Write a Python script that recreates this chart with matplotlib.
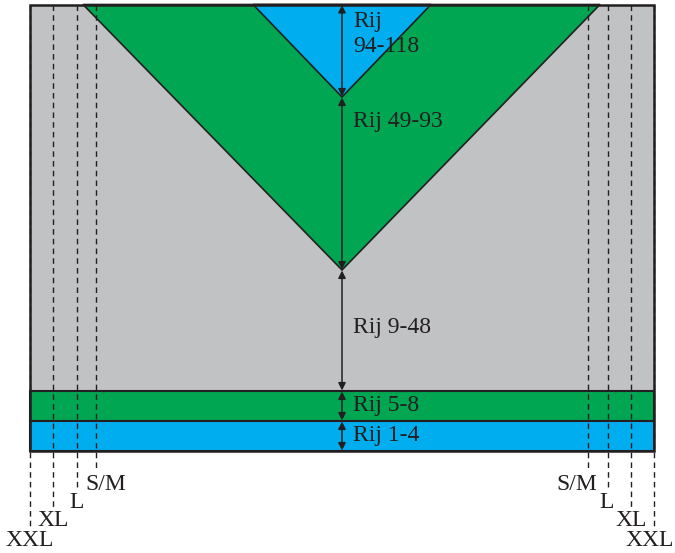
import matplotlib
matplotlib.use("Agg")
import matplotlib.pyplot as plt
from matplotlib.patches import Polygon, Rectangle

plt.rcParams['font.family'] = ['Liberation Serif', 'DejaVu Serif']

# --- data ---
row_labels = ["Rij 1-4", "Rij 5-8", "Rij 9-48", "Rij 49-93", "Rij\n94-118"]
size_labels = ["S/M", "L", "XL", "XXL"]

GRAY = "#c1c2c4"
GREEN = "#00a651"
BLUE = "#00aeef"
EDGE = "#231f20"

fig = plt.figure(figsize=(6.75, 5.53), dpi=100)
ax = fig.add_axes([0, 0, 1, 1])
ax.set_xlim(0, 675)
ax.set_ylim(553, 0)
ax.axis('off')

L, R, T, B = 30, 654, 4.5, 451
band1, band2 = 421, 391
cx = 342
apex_green, apex_blue = 270, 97

ax.add_patch(Rectangle((L, T), R - L, B - T, facecolor=GRAY, edgecolor='none', zorder=1))
ax.add_patch(Polygon([(83, T), (600, T), (cx, apex_green)], closed=True,
                     facecolor=GREEN, edgecolor=EDGE, lw=1.2, zorder=2))
ax.add_patch(Polygon([(253, T), (431, T), (cx, apex_blue)], closed=True,
                     facecolor=BLUE, edgecolor=EDGE, lw=1.2, zorder=3))
ax.add_patch(Rectangle((L, band2), R - L, band1 - band2, facecolor=GREEN,
                       edgecolor=EDGE, lw=1.5, zorder=2))
ax.add_patch(Rectangle((L, band1), R - L, B - band1, facecolor=BLUE,
                       edgecolor=EDGE, lw=1.5, zorder=2))
ax.add_patch(Rectangle((L, T), R - L, B - T, facecolor='none', edgecolor=EDGE,
                       lw=1.8, zorder=6))

# dashed size lines
left_x = [96, 77, 53, 30]
right_x = [588, 608, 631, 654]
ends = [470, 490, 509, 527]
lab_y = [484, 503, 521, 540]
left_lab_x = [85, 77, 53, 30]
left_ha = ['left', 'center', 'center', 'center']
right_lab_x = [597, 607, 631, 674]
right_ha = ['right', 'center', 'center', 'right']
for i, lab in enumerate(size_labels):
    for xs in (left_x[i], right_x[i]):
        ax.plot([xs, xs], [T, ends[i]], ls=(0, (4, 3)), color=EDGE, lw=1.0, zorder=5)
    ax.text(left_lab_x[i], lab_y[i], lab, fontsize=17, color=EDGE,
            ha=left_ha[i], va='center', zorder=7)
    ax.text(right_lab_x[i], lab_y[i], lab, fontsize=17, color=EDGE,
            ha=right_ha[i], va='center', zorder=7)

# arrows
segs = [(B, band1), (band1, band2), (band2, apex_green), (apex_green, apex_blue), (apex_blue, T)]
lab_pos = [436, 406, 328, 121, 34]
for (y0, y1), lab, ly in zip(segs, row_labels, lab_pos):
    ax.annotate('', xy=(cx, y1 + 0.5), xytext=(cx, y0 - 0.5),
                arrowprops=dict(arrowstyle='<|-|>', color=EDGE, lw=1.1,
                                mutation_scale=11, shrinkA=0, shrinkB=0), zorder=8)
    ax.text(353, ly, lab, fontsize=17, color=EDGE, ha='left', va='center',
            linespacing=1.2, zorder=8)

fig.savefig("out.png", dpi=100)
